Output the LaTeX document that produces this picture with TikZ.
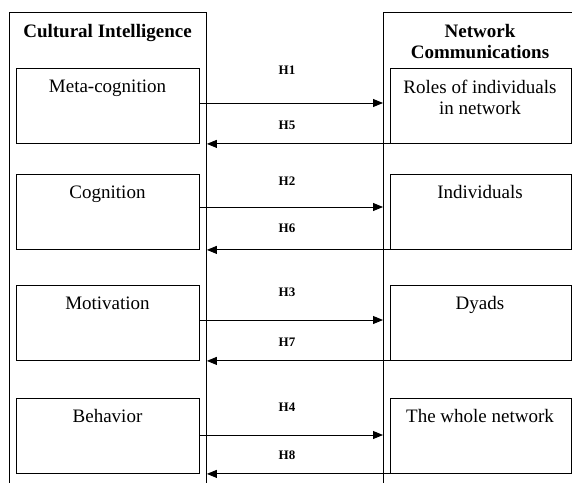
\documentclass[tikz,border=0pt]{standalone}
\usepackage{fontspec}
\setmainfont{Liberation Serif}
\usetikzlibrary{arrows.meta}
\begin{document}
\begin{tikzpicture}[x=1pt,y=-1pt,line width=0.9pt,
  outerbox/.style={draw,inner sep=0pt,anchor=north west},
  innerbox/.style={draw,inner sep=0pt,anchor=north west,minimum height=75pt},
  boxtext/.style={font=\fontsize{19}{21}\selectfont,anchor=base,inner sep=0pt},
  titletext/.style={font=\fontsize{19}{21}\selectfont\bfseries,anchor=base,inner sep=0pt},
  hlabel/.style={font=\fontsize{13}{15}\selectfont\bfseries,anchor=base,inner sep=0pt},
  arr/.style={-{Triangle[length=10pt,width=8pt]}}]
\useasboundingbox (0,0) rectangle (572,482);
% outer boxes (bottom/right borders lie outside the page)
\node[outerbox,minimum width=197pt,minimum height=500pt] (ci) at (9,12) {};
\node[outerbox,minimum width=200pt,minimum height=500pt] (nc) at (383,12) {};
\node[titletext] (cit) at (107.5,37) {Cultural Intelligence};
\node[titletext] (nct1) at (480,37) {Network};
\node[titletext] (nct2) at (480,58) {Communications};
% left boxes
\node[innerbox,minimum width=183pt] (l1) at (16,68) {};
\node[innerbox,minimum width=183pt] (l2) at (16,174) {};
\node[innerbox,minimum width=183pt] (l3) at (16,285) {};
\node[innerbox,minimum width=183pt] (l4) at (16,398) {};
% right boxes
\node[innerbox,minimum width=181pt] (r1) at (390,68) {};
\node[innerbox,minimum width=181pt] (r2) at (390,174) {};
\node[innerbox,minimum width=181pt] (r3) at (390,285) {};
\node[innerbox,minimum width=181pt] (r4) at (390,398) {};
% texts
\node[boxtext] (l1t) at (107.5,92) {Meta-cognition};
\node[boxtext] (l2t) at (107.5,198) {Cognition};
\node[boxtext] (l3t) at (107.5,309) {Motivation};
\node[boxtext] (l4t) at (107.5,422) {Behavior};
\node[boxtext] (r1t) at (480,93) {Roles of individuals};
\node[boxtext] (r1u) at (480,114) {in network};
\node[boxtext] (r2t) at (480,198) {Individuals};
\node[boxtext] (r3t) at (480,309) {Dyads};
\node[boxtext] (r4t) at (480,422) {The whole network};
% hypothesis labels
\node[hlabel] (h1) at (287,74.5) {H1};
\node[hlabel] (h5) at (287,129.5) {H5};
\node[hlabel] (h2) at (287,185.5) {H2};
\node[hlabel] (h6) at (287,232.5) {H6};
\node[hlabel] (h3) at (287,296.5) {H3};
\node[hlabel] (h7) at (287,346.5) {H7};
\node[hlabel] (h4) at (287,411.5) {H4};
\node[hlabel] (h8) at (287,459.5) {H8};
% arrow heights
\coordinate (f1) at (0,103);
\coordinate (f2) at (0,207);
\coordinate (f3) at (0,320);
\coordinate (f4) at (0,435);
% forward arrows
\draw[arr] (l1.east |- f1) -- (nc.west |- f1);
\draw[arr] (l2.east |- f2) -- (nc.west |- f2);
\draw[arr] (l3.east |- f3) -- (nc.west |- f3);
\draw[arr] (l4.east |- f4) -- (nc.west |- f4);
% backward arrows
\draw[arr] (r1.south west) -- (ci.east |- r1.south west);
\draw[arr] (r2.south west) -- (ci.east |- r2.south west);
\draw[arr] (r3.south west) -- (ci.east |- r3.south west);
\draw[arr] (r4.south west) -- (ci.east |- r4.south west);
\end{tikzpicture}
\end{document}
